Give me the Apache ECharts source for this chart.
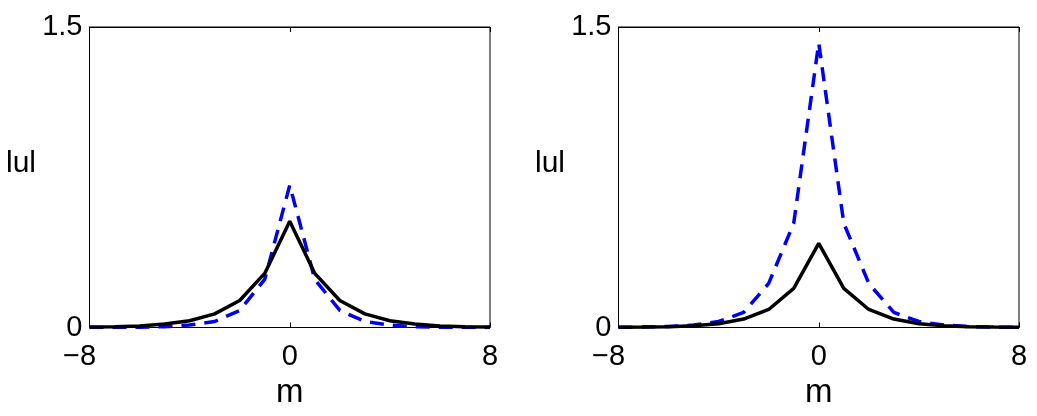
<!DOCTYPE html>
<html>
<head>
<meta charset="utf-8">
<script src="https://cdn.jsdelivr.net/npm/echarts@6/dist/echarts.min.js"></script>
<style>
  html, body { margin: 0; padding: 0; background: #fff; }
  #chart { width: 1037px; height: 416px; }
</style>
</head>
<body>
<div id="chart"></div>
<script>
// m = -8 .. 8
const mValues = [-8, -7, -6, -5, -4, -3, -2, -1, 0, 1, 2, 3, 4, 5, 6, 7, 8]

// left panel
const leftSolid = [0.002, 0.004, 0.008, 0.017, 0.034, 0.068, 0.135, 0.27, 0.53,
  0.27, 0.135, 0.068, 0.034, 0.017, 0.008, 0.004, 0.002]
const leftDashed = [0.0002, 0.0005, 0.0015, 0.004, 0.012, 0.03, 0.085, 0.24, 0.71,
  0.24, 0.085, 0.03, 0.012, 0.004, 0.0015, 0.0005, 0.0002]

// right panel
const rightSolid = [0.001, 0.002, 0.004, 0.009, 0.019, 0.042, 0.09, 0.195, 0.42,
  0.195, 0.09, 0.042, 0.019, 0.009, 0.004, 0.002, 0.001]
const rightDashed = [0.001, 0.002, 0.005, 0.012, 0.03, 0.075, 0.22, 0.52, 1.42,
  0.52, 0.22, 0.075, 0.03, 0.012, 0.005, 0.002, 0.001]

const xTicks = [-8, 0, 8]
const yTicks = [0, 1.5]

const font = "'Liberation Sans', Arial, Helvetica, sans-serif"
const tickSize = 29

function pairs(ys) {
  return mValues.map((m, i) => [m, ys[i]])
}

function bottomAxis(gi) {
  return {
    type: 'value',
    gridIndex: gi,
    min: xTicks[0],
    max: xTicks[2],
    interval: 8,
    name: 'm',
    nameLocation: 'middle',
    nameGap: 45,
    nameTextStyle: { fontFamily: font, fontSize: 33, color: '#000' },
    axisLine: { show: true, onZero: false, lineStyle: { color: '#000', width: 1 } },
    axisTick: { show: true, inside: true, length: 5, lineStyle: { color: '#000' } },
    splitLine: { show: false },
    axisLabel: {
      margin: 15,
      fontFamily: font,
      fontSize: tickSize,
      color: '#000',
      formatter: v => v < 0 ? '{n|\u2212' + Math.abs(v) + '}' : String(v),
      rich: { n: { fontFamily: font, fontSize: tickSize, color: '#000', padding: [0, 20, 0, 0] } }
    }
  }
}

function topAxis(gi) {
  return {
    type: 'value',
    gridIndex: gi,
    position: 'top',
    min: xTicks[0],
    max: xTicks[2],
    interval: 8,
    axisLine: { show: true, onZero: false, lineStyle: { color: '#000', width: 1 } },
    axisTick: { show: true, inside: true, length: 5, lineStyle: { color: '#000' } },
    axisLabel: { show: false },
    splitLine: { show: false }
  }
}

function leftAxis(gi) {
  return {
    type: 'value',
    gridIndex: gi,
    min: yTicks[0],
    max: yTicks[1],
    interval: 1.5,
    axisLine: { show: true, onZero: false, lineStyle: { color: '#000', width: 1 } },
    axisTick: { show: false },
    splitLine: { show: false },
    axisLabel: { margin: 7, fontFamily: font, fontSize: tickSize, color: '#000' }
  }
}

function solid(gi, ys) {
  return {
    type: 'line', xAxisIndex: gi * 2, yAxisIndex: gi, data: pairs(ys),
    symbol: 'none', z: 3,
    lineStyle: { color: '#000', width: 3.5 }
  }
}

function dashed(gi, ys) {
  return {
    type: 'line', xAxisIndex: gi * 2, yAxisIndex: gi, data: pairs(ys),
    symbol: 'none', z: 2,
    lineStyle: { color: '#0000f0', width: 3.5, type: [14, 9] }
  }
}

const chart = echarts.init(document.getElementById('chart'), null, { renderer: 'canvas' })
chart.setOption({
  animation: false,
  backgroundColor: '#fff',
  grid: [
    { left: 89.5, top: 27, width: 400.5, height: 300.5, show: true, borderColor: '#000', borderWidth: 1 },
    { left: 618.5, top: 27, width: 400.5, height: 300.5, show: true, borderColor: '#000', borderWidth: 1 }
  ],
  xAxis: [bottomAxis(0), topAxis(0), bottomAxis(1), topAxis(1)],
  yAxis: [leftAxis(0), leftAxis(1)],
  graphic: [
    { type: 'text', left: 6, top: 149, style: { text: 'lul', font: '30px ' + font, fill: '#000' } },
    { type: 'text', left: 535, top: 149, style: { text: 'lul', font: '30px ' + font, fill: '#000' } }
  ],
  series: [
    dashed(0, leftDashed),
    solid(0, leftSolid),
    dashed(1, rightDashed),
    solid(1, rightSolid)
  ]
})
</script>
</body>
</html>
